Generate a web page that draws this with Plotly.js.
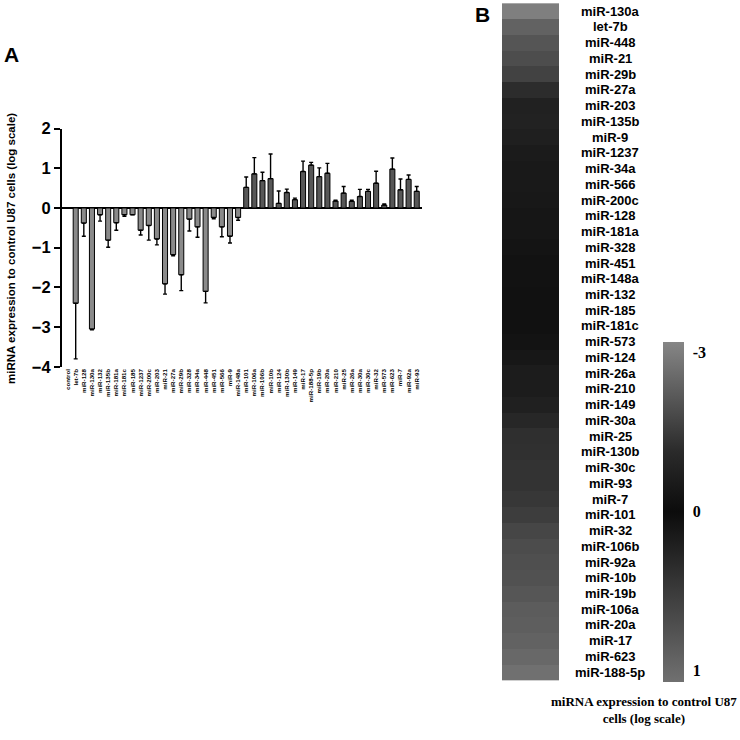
<!DOCTYPE html>
<html><head><meta charset="utf-8">
<script src="https://cdn.plot.ly/plotly-3.0.1.min.js"></script>
<style>html,body{margin:0;padding:0;background:#fff}</style>
</head><body><div id="chart" style="width:740px;height:740px"></div>
<script>
// ---- Panel A data ----
const barCategories = ['control','let-7b','miR-128','miR-130a','miR-132','miR-135b','miR-181a','miR-181c','miR-185','miR-1237','miR-200c','miR-203','miR-21','miR-27a','miR-29b','miR-328','miR-34a','miR-448','miR-451','miR-566','miR-9','miR-148a',
  'miR-101','miR-106a','miR-106b','miR-10b','miR-124','miR-130b','miR-149','miR-17','miR-188-5p','miR-19b','miR-20a','miR-210','miR-25','miR-26a','miR-30a','miR-30c','miR-32','miR-573','miR-623','miR-7','miR-92a','miR-93'];
const barValues = [0,-2.40,-0.38,-3.05,-0.17,-0.81,-0.37,-0.17,-0.17,-0.56,-0.44,-0.78,-1.91,-1.175,-1.68,-0.28,-0.475,-2.10,-0.24,-0.475,-0.71,-0.24,
  0.52,0.86,0.69,0.74,0.117,0.39,0.21,0.92,1.08,0.79,0.875,0.175,0.375,0.167,0.29,0.42,0.625,0.075,0.98,0.46,0.72,0.42];
const barErrors = [0,1.40,0.33,0.02,0.16,0.18,0.19,0.04,0.0,0.12,0.37,0.15,0.26,0.03,0.40,0.30,0.26,0.29,0.03,0.25,0.17,0.07,
  0.26,0.41,0.21,0.62,0.31,0.085,0.04,0.26,0.07,0.22,0.25,0.02,0.165,0.03,0.18,0.05,0.30,0.03,0.28,0.27,0.11,0.12];
const yTicks = [-4,-3,-2,-1,0,1,2];

// ---- Panel B data ----
const heatmapOrder = ['miR-130a','let-7b','miR-448','miR-21','miR-29b','miR-27a','miR-203','miR-135b','miR-9','miR-1237','miR-34a','miR-566','miR-200c','miR-128','miR-181a','miR-328','miR-451','miR-148a','miR-132','miR-185','miR-181c','miR-573',
  'miR-124','miR-26a','miR-210','miR-149','miR-30a','miR-25','miR-130b','miR-30c','miR-93','miR-7','miR-101','miR-32','miR-106b','miR-92a','miR-10b','miR-19b','miR-106a','miR-20a','miR-17','miR-623','miR-188-5p'];
const colorbarTickValues = [-3, 0, 1];

// colour scale: -3 .. 0 takes the upper half, 0 .. 1 the lower half (scale is flipped so -3 is on top)
function toScale(v){ return -(v < 0 ? v/3 : v); }
const valueOf = {};
barCategories.forEach((c,i)=>{ valueOf[c] = barValues[i]; });

const boldSans = {family:'Liberation Sans, Arial, sans-serif', color:'#000', weight:700};
const boldSerif = {family:'Liberation Serif, Times New Roman, serif', color:'#000', weight:700};

const barTrace = {
  type:'bar', x:barCategories, y:barValues, width:0.62,
  marker:{color:barValues.map(v=> v<0 ? '#8a8a8a' : '#575757'), line:{color:'#000', width:1}},
  error_y:{type:'data', symmetric:false,
    array:barValues.map((v,i)=> v>0 ? barErrors[i] : 0),
    arrayminus:barValues.map((v,i)=> v<0 ? barErrors[i] : 0),
    color:'#000', thickness:1.4, width:2},
  xaxis:'x', yaxis:'y', hoverinfo:'skip', showlegend:false
};

const zmax = 1.07;
const heatTrace = {
  type:'heatmap', x:['B'], y:heatmapOrder,
  z:heatmapOrder.map(n=>[toScale(valueOf[n])]),
  zmin:-zmax, zmax:zmax,
  colorscale:[[0,'rgb(112,112,112)'],[0.5,'rgb(12,12,12)'],[0.68,'rgb(43,43,43)'],[0.83,'rgb(86,86,86)'],[1,'rgb(134,134,134)']],
  xaxis:'x2', yaxis:'y2', hoverinfo:'skip',
  colorbar:{x:663/740, xanchor:'left', xpad:0, ypad:0, thickness:21,
    len:340, lenmode:'pixels', y:1-681.7/740, yanchor:'bottom',
    outlinewidth:0, tickvals:colorbarTickValues.map(toScale), ticktext:colorbarTickValues.map(String),
    ticks:'outside', ticklen:6, tickcolor:'rgba(0,0,0,0)',
    tickfont:Object.assign({size:16}, boldSerif)}
};

const annotations = heatmapOrder.map(n=>({
  x:610/740, xref:'paper', y:n, yref:'y2', text:n, showarrow:false,
  xanchor:'center', yanchor:'middle', font:Object.assign({size:13}, boldSans)
}));
annotations.push(
  {x:11/740, y:1-249/740, xref:'paper', yref:'paper', text:'miRNA expression to control U87 cells (log scale)', textangle:-90,
   showarrow:false, xanchor:'center', yanchor:'middle', font:Object.assign({size:11.5}, boldSans)},
  {x:11/740, y:1-54/740, xref:'paper', yref:'paper', text:'A', showarrow:false, xanchor:'center', yanchor:'middle', font:Object.assign({size:21}, boldSans)},
  {x:482/740, y:1-14/740, xref:'paper', yref:'paper', text:'B', showarrow:false, xanchor:'center', yanchor:'middle', font:Object.assign({size:21}, boldSans)},
  {x:644/740, y:1-710/740, xref:'paper', yref:'paper', text:'miRNA expression to control U87<br>cells (log scale)', showarrow:false,
   xanchor:'center', yanchor:'middle', font:Object.assign({size:13}, boldSerif)}
);

const layout = {
  width:740, height:740, margin:{l:0,r:0,t:0,b:0}, paper_bgcolor:'#fff', plot_bgcolor:'rgba(0,0,0,0)',
  showlegend:false,
  xaxis:{domain:[61.9/740, 421.6/740], type:'category', range:[-0.7, 43.6], showline:false, ticks:'',
    tickangle:-90, tickfont:Object.assign({size:6.2}, boldSans), showgrid:false, zeroline:false, anchor:'y'},
  yaxis:{domain:[1-366.8/740, 1-128.6/740], range:[-4,2], tickvals:yTicks, showline:true, linewidth:2, linecolor:'#000',
    ticks:'outside', ticklen:6, tickwidth:2, tickcolor:'#000', tickfont:Object.assign({size:16.5}, boldSans),
    zeroline:true, zerolinewidth:2.2, zerolinecolor:'#000', showgrid:false, anchor:'x'},
  xaxis2:{domain:[502/740, 559/740], anchor:'y2', visible:false},
  yaxis2:{domain:[1-681.7/740, 1-1.7/740], anchor:'x2', autorange:'reversed', type:'category', visible:false},
  annotations:annotations
};

Plotly.newPlot('chart', [barTrace, heatTrace], layout, {displayModeBar:false, staticPlot:true});
</script>
</body></html>
